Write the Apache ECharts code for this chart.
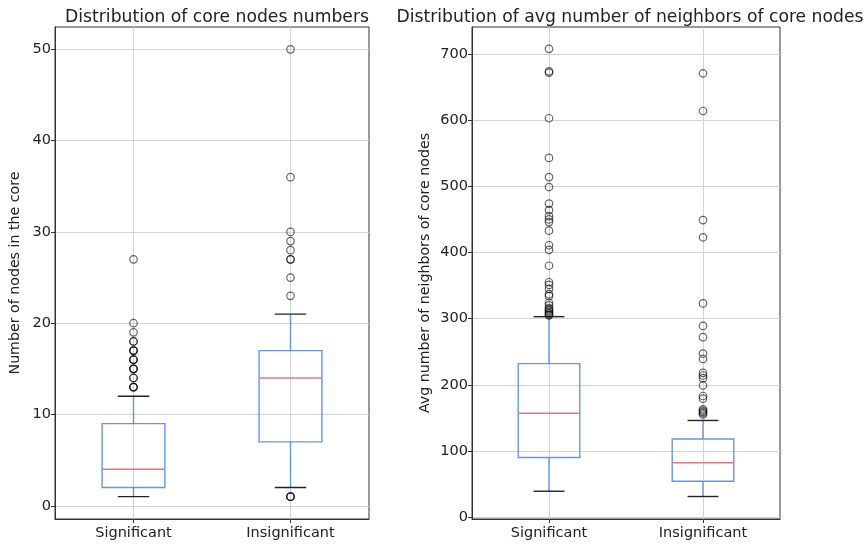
<!DOCTYPE html>
<html>
<head>
<meta charset="utf-8">
<script src="https://cdn.jsdelivr.net/npm/echarts@6/dist/echarts.min.js"></script>
<style>
html,body{margin:0;padding:0;background:#fff;}
#chart{width:864px;height:546px;}
</style>
</head>
<body>
<div id="chart"></div>
<script>
// ---- Data ----
const categories = ['Significant', 'Insignificant'];

// [whisker low, Q1, median, Q3, whisker high]
const coreStatsSig = [1, 2, 4, 9, 12];
const coreStatsInsig = [2, 7, 14, 17, 21];
const coreOutliersSig = [13, 13, 13, 14, 14, 15, 15, 15, 16, 16, 16, 17, 17, 17, 18, 18, 19, 20, 27];
const coreOutliersInsig = [1, 1, 1, 23, 25, 27, 27, 28, 29, 30, 36, 50];

const neighStatsSig = [39, 90, 157, 232, 303];
const neighStatsInsig = [31, 54, 82, 118, 146];
const neighOutliersSig = [305, 306, 308, 310, 312, 314, 316, 320, 324, 334, 337, 345, 351, 355, 380, 404, 411, 433, 446, 450, 455, 464, 474, 499, 514, 543, 603, 672, 674, 708];
const neighOutliersInsig = [155, 157, 159, 161, 163, 179, 183, 199, 210, 214, 218, 239, 247, 272, 289, 323, 423, 449, 614, 671];

// axis ranges and tick labels
const coreRange = [-1.45, 52.45];
const coreTickValues = [0, 10, 20, 30, 40, 50];
const neighRange = [-3, 741];
const neighTickValues = [0, 100, 200, 300, 400, 500, 600, 700];

// ---- Styles ----
const FONT = 'DejaVu Sans';
const BOX = '#6495ED';
const MED = '#e8777a';
const CAP = '#222222';

function boxItems(stats) {
  return stats.map((s, i) => [i].concat(s));
}
function outlierItems(vals, idx) {
  return vals.map(v => [idx, v]);
}

function renderBox(params, api) {
  const x = api.value(0);
  const lo = api.value(1), q1 = api.value(2), med = api.value(3), q3 = api.value(4), hi = api.value(5);
  const band = api.size([1, 0])[0];
  const half = band * 0.2;
  const capHalf = band * 0.1;
  const pLo = api.coord([x, lo]);
  const pQ1 = api.coord([x, q1]);
  const pMed = api.coord([x, med]);
  const pQ3 = api.coord([x, q3]);
  const pHi = api.coord([x, hi]);
  const cx = pMed[0];
  const lw = 1.4;
  return {
    type: 'group',
    children: [
      {type: 'line', shape: {x1: cx, y1: pQ3[1], x2: cx, y2: pHi[1]}, style: {stroke: BOX, lineWidth: lw}},
      {type: 'line', shape: {x1: cx, y1: pQ1[1], x2: cx, y2: pLo[1]}, style: {stroke: BOX, lineWidth: lw}},
      {type: 'line', shape: {x1: cx - capHalf, y1: pHi[1], x2: cx + capHalf, y2: pHi[1]}, style: {stroke: CAP, lineWidth: lw}},
      {type: 'line', shape: {x1: cx - capHalf, y1: pLo[1], x2: cx + capHalf, y2: pLo[1]}, style: {stroke: CAP, lineWidth: lw}},
      {type: 'rect', shape: {x: cx - half, y: pQ3[1], width: half * 2, height: pQ1[1] - pQ3[1]}, style: {stroke: BOX, fill: 'rgba(0,0,0,0)', lineWidth: lw}},
      {type: 'line', shape: {x1: cx - half, y1: pMed[1], x2: cx + half, y2: pMed[1]}, style: {stroke: MED, lineWidth: lw}}
    ]
  };
}

const textStyle = {fontFamily: FONT, color: '#222', fontSize: 14.5};
const gridLine = {show: true, lineStyle: {color: '#d3d3d3', width: 1}};

function xAxis(gi) {
  return {
    type: 'category', gridIndex: gi, data: categories, boundaryGap: true,
    axisLine: {show: true, onZero: false, lineStyle: {color: '#333', width: 1}},
    axisTick: {show: true, alignWithLabel: true, length: 4, lineStyle: {color: '#333'}},
    axisLabel: Object.assign({margin: 7}, textStyle),
    splitLine: Object.assign({alignWithLabel: true}, gridLine)
  };
}
function yAxis(gi, range, ticks, name, gap, moveOverlap) {
  return {
    type: 'value', gridIndex: gi, min: range[0], max: range[1],
    name: name, nameLocation: 'middle', nameGap: gap, nameRotate: 90,
    nameMoveOverlap: moveOverlap,
    nameTextStyle: Object.assign({}, textStyle, {fontSize: 14.2}),
    axisLine: {show: true, onZero: false, lineStyle: {color: '#333', width: 1}},
    axisTick: {show: true, length: 4, customValues: ticks, lineStyle: {color: '#333'}},
    axisLabel: Object.assign({margin: 4, customValues: ticks}, textStyle),
    splitLine: gridLine
  };
}

function scatter(gi, data) {
  return {
    type: 'scatter', xAxisIndex: gi, yAxisIndex: gi, data: data,
    symbol: 'circle', symbolSize: 7.5,
    itemStyle: {color: 'rgba(0,0,0,0)', borderColor: 'rgba(0,0,0,0.75)', borderWidth: 1.2},
    z: 5
  };
}

const chart = echarts.init(document.getElementById('chart'), null, {renderer: 'canvas'});
chart.setOption({
  animation: false,
  backgroundColor: '#fff',
  title: [
    {text: 'Distribution of core nodes numbers', left: 212, top: 4, textAlign: 'center',
     textStyle: {fontFamily: FONT, fontSize: 17.2, fontWeight: 'normal', color: '#222'}},
    {text: 'Distribution of avg number of neighbors of core nodes', left: 625, top: 4, textAlign: 'center',
     textStyle: {fontFamily: FONT, fontSize: 17.2, fontWeight: 'normal', color: '#222'}}
  ],
  grid: [
    {left: 55, top: 27, width: 314, height: 492, show: true, borderColor: '#333', borderWidth: 1, backgroundColor: 'rgba(0,0,0,0)'},
    {left: 472, top: 27, width: 308, height: 492, show: true, borderColor: '#333', borderWidth: 1, backgroundColor: 'rgba(0,0,0,0)'}
  ],
  xAxis: [xAxis(0), xAxis(1)],
  yAxis: [
    yAxis(0, coreRange, coreTickValues, 'Number of nodes in the core', 33, false),
    yAxis(1, neighRange, neighTickValues, 'Avg number of neighbors of core nodes', 40, true)
  ],
  series: [
    {type: 'custom', xAxisIndex: 0, yAxisIndex: 0, renderItem: renderBox,
     data: boxItems([coreStatsSig, coreStatsInsig]), encode: {x: 0, y: [1, 2, 3, 4, 5]}, z: 3},
    scatter(0, outlierItems(coreOutliersSig, 0).concat(outlierItems(coreOutliersInsig, 1))),
    {type: 'custom', xAxisIndex: 1, yAxisIndex: 1, renderItem: renderBox,
     data: boxItems([neighStatsSig, neighStatsInsig]), encode: {x: 0, y: [1, 2, 3, 4, 5]}, z: 3},
    scatter(1, outlierItems(neighOutliersSig, 0).concat(outlierItems(neighOutliersInsig, 1)))
  ]
});
</script>
</body>
</html>
